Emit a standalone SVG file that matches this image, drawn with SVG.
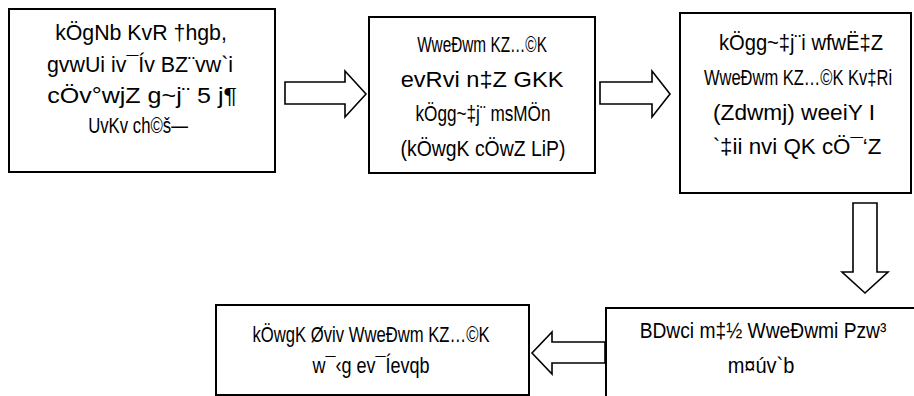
<svg xmlns="http://www.w3.org/2000/svg" width="914" height="396" viewBox="0 0 914 396">
<style>
.box{fill:#fff;stroke:#000;stroke-width:2}
.arr{fill:#fff;stroke:#000;stroke-width:1.6;stroke-linejoin:miter}
text{font-family:"Liberation Sans",Arial,sans-serif;font-size:22px;fill:#000;text-anchor:middle}
</style>
<rect width="914" height="396" fill="#fff"/>
<g id="connectors">
<polygon class="arr" points="285,82 345,82 345,71 366,94 345,117 345,104 285,104"/>
<polygon class="arr" points="600,82 652,82 652,71 670,94 652,117 652,104 600,104"/>
<polygon class="arr" points="853,203 877,203 877,272 888,272 865,293 842,272 853,272"/>
<polygon class="arr" points="605,342 552,342 552,332 532,353 552,374 552,363 605,363"/>
</g>
<g id="n1">
<rect class="box" x="9" y="9" width="266" height="163"/>
<text transform="translate(141 0) scale(.75 1)" x="0" y="40" textLength="229" lengthAdjust="spacingAndGlyphs">kÖgNb KvR †hgb,</text>
<text transform="translate(140 0) scale(.75 1)" x="0" y="72" textLength="248" lengthAdjust="spacingAndGlyphs">gvwUi iv¯Ív BZ¨vw`i</text>
<text transform="translate(142 0) scale(.75 1)" x="0" y="103" textLength="253" lengthAdjust="spacingAndGlyphs">cÖv°wjZ g~j¨ 5 j¶</text>
<text transform="translate(138 0) scale(.75 1)" x="0" y="133" textLength="133" lengthAdjust="spacingAndGlyphs">UvKv ch©š—</text>
</g>
<g id="n2">
<rect class="box" x="369" y="17" width="226" height="156"/>
<text transform="translate(482 0) scale(.75 1)" x="0" y="52" textLength="173" lengthAdjust="spacingAndGlyphs">WweÐwm KZ…©K</text>
<text transform="translate(482 0) scale(.75 1)" x="0" y="87" textLength="217" lengthAdjust="spacingAndGlyphs">evRvi n‡Z GKK</text>
<text transform="translate(483 0) scale(.75 1)" x="0" y="121" textLength="180" lengthAdjust="spacingAndGlyphs">kÖgg~‡j¨ msMÖn</text>
<text transform="translate(483 0) scale(.75 1)" x="0" y="156" textLength="220" lengthAdjust="spacingAndGlyphs">(kÖwgK cÖwZ LiP)</text>
</g>
<g id="n3">
<rect class="box" x="680" y="13" width="231" height="180"/>
<text transform="translate(801 0) scale(.75 1)" x="0" y="50" textLength="219" lengthAdjust="spacingAndGlyphs">kÖgg~‡j¨i wfwË‡Z</text>
<text transform="translate(798 0) scale(.75 1)" x="0" y="85" textLength="251" lengthAdjust="spacingAndGlyphs">WweÐwm KZ…©K Kv‡Ri</text>
<text transform="translate(794 0) scale(.75 1)" x="0" y="120" textLength="216" lengthAdjust="spacingAndGlyphs">(Zdwmj) weeiY I</text>
<text transform="translate(797 0) scale(.75 1)" x="0" y="154" textLength="225" lengthAdjust="spacingAndGlyphs">`‡ii nvi QK cÖ¯‘Z</text>
</g>
<g id="n4">
<rect class="box" x="606" y="308" width="320" height="100"/>
<text transform="translate(763 0) scale(.75 1)" x="0" y="338" textLength="329" lengthAdjust="spacingAndGlyphs">BDwci m‡½ WweÐwmi Pzw³</text>
<text transform="translate(761 0) scale(.75 1)" x="0" y="373" textLength="89" lengthAdjust="spacingAndGlyphs">m¤úv`b</text>
</g>
<g id="n5">
<rect class="box" x="216" y="305" width="313" height="90"/>
<text transform="translate(371 0) scale(.75 1)" x="0" y="342" textLength="316" lengthAdjust="spacingAndGlyphs">kÖwgK Øviv WweÐwm KZ…©K</text>
<text transform="translate(371 0) scale(.75 1)" x="0" y="373" textLength="156" lengthAdjust="spacingAndGlyphs">w¯‹g ev¯Íevqb</text>
</g>
</svg>
